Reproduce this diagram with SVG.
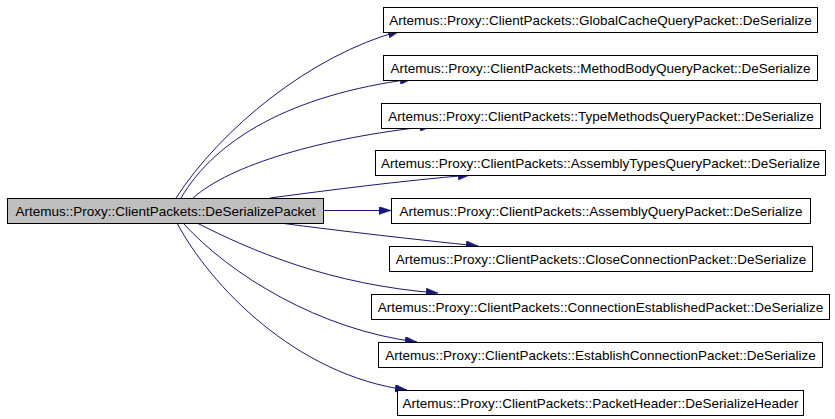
<svg xmlns="http://www.w3.org/2000/svg" width="835" height="419" viewBox="0 0 835 419">
<style>
.box{fill:#ffffff;stroke:#000000;stroke-width:1}
.main{fill:#bfbfbf;stroke:#000000;stroke-width:1}
.lbl{font-family:"Liberation Sans",Arial,sans-serif;font-size:13.5px;fill:#000000;text-anchor:middle}
.edge{fill:none;stroke:#191970;stroke-width:1;marker-end:url(#arr)}
</style>
<defs>
<marker id="arr" markerUnits="userSpaceOnUse" viewBox="-12 -4 12 8" markerWidth="12" markerHeight="8" refX="0" refY="0" orient="auto">
<path d="M0,0 L-12,-4 L-12,4 Z" fill="#191970" stroke="#191970" stroke-width="0.5"/>
</marker>
</defs>
<rect width="835" height="419" fill="#ffffff"/>
<g id="connectors">
<path class="edge" d="M176,198 C220,130 310,55 400,31"/>
<path class="edge" d="M181,198 C215,140 290,95 412,79"/>
<path class="edge" d="M193,198 C230,165 320,138 432,126"/>
<path class="edge" d="M270,198 C330,190 400,181 470,175"/>
<path class="edge" d="M323,210.5 L391,210.5"/>
<path class="edge" d="M280,223 C340,231 420,240 478,246"/>
<path class="edge" d="M197,223 C250,250 330,285 438,293"/>
<path class="edge" d="M183,223 C230,275 320,330 417,342"/>
<path class="edge" d="M177,223 C210,285 295,375 407,390"/>
</g>
<g id="n0">
<rect class="main" x="7.5" y="198.5" width="316" height="25"/>
<text class="lbl" x="165.5" y="216">Artemus::Proxy::ClientPackets::DeSerializePacket</text>
</g>
<g id="n1">
<rect class="box" x="383.5" y="7.5" width="434" height="25"/>
<text class="lbl" x="600.5" y="25">Artemus::Proxy::ClientPackets::GlobalCacheQueryPacket::DeSerialize</text>
</g>
<g id="n2">
<rect class="box" x="383.5" y="55.5" width="434" height="25"/>
<text class="lbl" x="600.5" y="73">Artemus::Proxy::ClientPackets::MethodBodyQueryPacket::DeSerialize</text>
</g>
<g id="n3">
<rect class="box" x="381.5" y="103.5" width="439" height="25"/>
<text class="lbl" x="601" y="121">Artemus::Proxy::ClientPackets::TypeMethodsQueryPacket::DeSerialize</text>
</g>
<g id="n4">
<rect class="box" x="375.5" y="150.5" width="450" height="25"/>
<text class="lbl" x="600.5" y="168">Artemus::Proxy::ClientPackets::AssemblyTypesQueryPacket::DeSerialize</text>
</g>
<g id="n5">
<rect class="box" x="391.5" y="198.5" width="419" height="25"/>
<text class="lbl" x="601" y="216">Artemus::Proxy::ClientPackets::AssemblyQueryPacket::DeSerialize</text>
</g>
<g id="n6">
<rect class="box" x="389.5" y="246.5" width="423" height="25"/>
<text class="lbl" x="601" y="264">Artemus::Proxy::ClientPackets::CloseConnectionPacket::DeSerialize</text>
</g>
<g id="n7">
<rect class="box" x="371.5" y="294.5" width="458" height="25"/>
<text class="lbl" x="600.5" y="312">Artemus::Proxy::ClientPackets::ConnectionEstablishedPacket::DeSerialize</text>
</g>
<g id="n8">
<rect class="box" x="378.5" y="342.5" width="444" height="25"/>
<text class="lbl" x="600.5" y="360">Artemus::Proxy::ClientPackets::EstablishConnectionPacket::DeSerialize</text>
</g>
<g id="n9">
<rect class="box" x="397.5" y="390.5" width="406" height="25"/>
<text class="lbl" x="600.5" y="408">Artemus::Proxy::ClientPackets::PacketHeader::DeSerializeHeader</text>
</g>
</svg>
